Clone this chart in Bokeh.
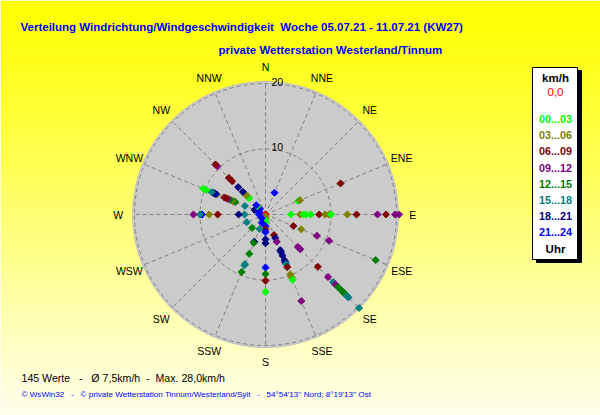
import numpy as np
from bokeh.plotting import figure
from bokeh.models import Range1d, ColumnDataSource
from bokeh.core.properties import value
from bokeh.embed import file_html
from bokeh.resources import INLINE

# ---------------- data ----------------
directions = ["N", "NNE", "NE", "ENE", "E", "ESE", "SE", "SSE",
              "S", "SSW", "SW", "WSW", "W", "WNW", "NW", "NNW"]
ring_values = [10, 20]
hour_labels = ["0,0", "00...03", "03...06", "06...09", "09...12",
               "12...15", "15...18", "18...21", "21...24"]
hour_colors = ["#FF0000", "#00FF00", "#808000", "#800000", "#800080",
               "#008000", "#008080", "#000080", "#0000FF"]

point_dir = (["N", "NNE", "ENE", "ENE", "ENE"]
             + ["E"] * 15 + ["ESE"] * 5 + ["SE"] * 13 + ["SSE"] * 14
             + ["S"] * 13 + ["SSW"] * 8 + ["SW"] * 2 + ["WSW"]
             + ["W"] * 8 + ["WNW"] * 17 + ["NW"] * 13)
point_speed = [0.0, 3.6, 5.4, 5.7, 12.4,
               3.9, 5.3, 5.8, 6.2, 6.9, 8.2, 9.1, 9.7, 10.0, 12.5, 13.9, 17.1, 18.4, 19.8, 20.4,
               4.6, 5.9, 8.5, 10.5, 18.2,
               7.0, 7.5, 11.3, 13.5, 14.6, 15.1, 15.7, 16.4, 16.7, 17.0, 17.6, 17.9, 20.2,
               3.4, 3.9, 4.5, 5.9, 6.2, 6.8, 7.6, 7.9, 8.2, 8.7, 9.9, 10.4, 10.8, 14.3,
               0.3, 0.6, 0.9, 1.2, 1.8, 2.3, 2.7, 3.8, 4.4, 8.1, 9.1, 10.1, 11.8,
               1.4, 2.4, 4.5, 4.7, 6.5, 8.2, 8.4, 9.5,
               0.8, 2.9,
               3.1,
               1.0, 3.2, 4.1, 7.3, 8.6, 9.7, 10.0, 11.0,
               1.0, 1.8, 3.4, 5.0, 5.2, 5.5, 5.8, 6.2, 6.5, 6.8, 8.0, 8.2, 8.4, 8.6, 8.9, 9.8, 10.3,
               1.2, 1.8, 2.0, 3.5, 3.8, 4.1, 4.5, 4.9, 5.9, 7.2, 7.9, 10.4, 10.8]
point_hour = [0, 8, 1, 2, 3,
              1, 2, 1, 1, 1, 3, 2, 2, 1, 2, 3, 4, 3, 4, 4,
              3, 2, 4, 4, 5,
              4, 4, 3, 4, 6, 4, 5, 5, 5, 5, 6, 6, 6,
              3, 7, 4, 7, 7, 7, 7, 7, 6, 3, 2, 2, 1, 4,
              2, 2, 1, 1, 8, 3, 8, 7, 7, 8, 5, 3, 1,
              8, 6, 7, 5, 5, 6, 6, 5,
              8, 5,
              6,
              8, 6, 7, 3, 2, 8, 6, 4,
              8, 7, 6, 5, 5, 2, 5, 4, 3, 3, 2, 8, 7, 7, 6, 1, 1,
              8, 1, 8, 1, 1, 2, 2, 7, 7, 3, 3, 4, 3]

NB = "\u00a0"
title_1 = "Verteilung Windrichtung/Windgeschwindigkeit" + NB * 2 + "Woche 05.07.21 - 11.07.21 (KW27)"
title_2 = "private Wetterstation Westerland/Tinnum"
info_text = ("145 Werte" + NB * 3 + "-" + NB * 3 + "Ø 7,5km/h" + NB * 2 + "-" + NB * 2
             + "Max. 28,0km/h")
copy_text = ("© WsWin32" + NB * 3 + "-" + NB * 3 + "© private Wetterstation Tinnum/Westerland/Sylt"
             + NB * 3 + "-" + NB * 3 + "54°54'13'' Nord; 8°19'13'' Ost")

# ---------------- layout helpers ----------------
PX = 6.55                 # pixels per km/h unit
CX, CY = 265.0, 214.0     # centre of the rose in page pixels
W, H = 600, 415


def pos(x, y):
    return (x - CX) / PX, (CY - y) / PX


x0, y1 = pos(0, 0)
x1, y0 = pos(W, H)

p = figure(width=W, height=H, x_range=Range1d(x0, x1), y_range=Range1d(y0, y1),
           toolbar_location=None, output_backend="svg", min_border=0)
p.axis.visible = False
p.grid.visible = False
p.outline_line_color = None
p.background_fill_color = "#FFFFF0"
p.border_fill_color = "#FFFFF0"

# background gradient (yellow -> pale)
n = 200
t = np.linspace(0, 1, n)                 # row 0 at bottom
blue = (238 * t[::-1] ** 1.1).astype(np.uint32)
rows = (255 << 24) | (blue << 16) | (255 << 8) | 255
img = np.repeat(rows[:, None], 2, axis=1).astype(np.uint32)
p.image_rgba(image=[img], x=x0, y=y0, dw=x1 - x0, dh=y1 - y0)

# disk
p.circle(x=[0], y=[0], radius=20.3, fill_color="#CBCBCB", line_color="#BDBDBD", line_width=1)
ang = np.deg2rad(np.arange(len(directions)) * 22.5)
p.segment(x0=np.zeros(len(ang)), y0=np.zeros(len(ang)),
          x1=20 * np.sin(ang), y1=20 * np.cos(ang),
          line_color="#808080", line_dash="4 3", line_width=1)
p.circle(x=[0] * len(ring_values), y=[0] * len(ring_values), radius=ring_values,
         fill_color=None, line_color="#808080", line_dash="4 3", line_width=1)

# ring labels
p.text(x=[6 / PX] * len(ring_values), y=[r + 0.3 for r in ring_values],
       text=[str(r) for r in ring_values], text_font=value("Liberation Sans"),
       text_font_size="10.5px", text_color="black", text_align="left", text_baseline="middle")

# compass labels
LR = 22.5
p.text(x=LR * np.sin(ang), y=LR * np.cos(ang), text=directions,
       text_font=value("Liberation Sans"), text_font_size="10.5px", text_color="black",
       text_align="center", text_baseline="middle")

# points
d_idx = np.array([directions.index(d) for d in point_dir])
a = np.deg2rad(d_idx * 22.5)
r = np.array(point_speed)
src = ColumnDataSource(dict(x=r * np.sin(a), y=r * np.cos(a),
                            c=[hour_colors[h] for h in point_hour]))
p.scatter("x", "y", source=src, marker="square", angle=np.pi / 4, size=5,
          fill_color="c", line_color="c", line_width=1)

# titles
tx, ty = pos(20, 26)
p.text(x=[tx], y=[ty], text=[title_1], text_font=value("Liberation Sans"),
       text_font_size="11.5px", text_font_style="bold", text_color="#0000FF",
       text_align="left", text_baseline="middle")
tx, ty = pos(218, 49)
p.text(x=[tx], y=[ty], text=[title_2], text_font=value("Liberation Sans"),
       text_font_size="11.5px", text_font_style="bold", text_color="#0000FF",
       text_align="left", text_baseline="middle")

# legend box with shadow
bx0, by0 = pos(532, 67)
bx1, by1 = pos(577, 259)
sx, sy = 4 / PX, 3 / PX
p.quad(left=[bx0 + sx], right=[bx1 + sx], top=[by0 - sy], bottom=[by1 - sy],
       fill_color="black", line_color="black")
p.quad(left=[bx0], right=[bx1], top=[by0], bottom=[by1],
       fill_color="white", line_color="black", line_width=1)
lx, _ = pos(555, 0)
_, ly = pos(0, 77)
p.text(x=[lx], y=[ly], text=["km/h"], text_font=value("Liberation Sans"),
       text_font_size="11.5px", text_font_style="bold", text_color="black",
       text_align="center", text_baseline="middle")
_, ly = pos(0, 91)
p.text(x=[lx], y=[ly], text=[hour_labels[0]], text_font=value("Liberation Sans"),
       text_font_size="11.5px", text_color=hour_colors[0],
       text_align="center", text_baseline="middle")
ys = [pos(0, 118.5 + 16.2 * i)[1] for i in range(len(hour_labels) - 1)]
p.text(x=[lx] * len(ys), y=ys, text=hour_labels[1:], text_font=value("Liberation Sans"),
       text_font_size="10.8px", text_font_style="bold", text_color=hour_colors[1:],
       text_align="center", text_baseline="middle")
_, ly = pos(0, 248)
p.text(x=[lx], y=[ly], text=["Uhr"], text_font=value("Liberation Sans"),
       text_font_size="11.5px", text_font_style="bold", text_color="black",
       text_align="center", text_baseline="middle")

# footer
tx, ty = pos(21, 377)
p.text(x=[tx], y=[ty], text=[info_text], text_font=value("Liberation Sans"),
       text_font_size="10.6px", text_color="black", text_align="left", text_baseline="middle")
tx, ty = pos(21, 394)
p.text(x=[tx], y=[ty], text=[copy_text], text_font=value("Liberation Sans"),
       text_font_size="8.1px", text_color="#0000FF", text_align="left", text_baseline="middle")

open("out.html", "w").write(file_html(p, INLINE))
